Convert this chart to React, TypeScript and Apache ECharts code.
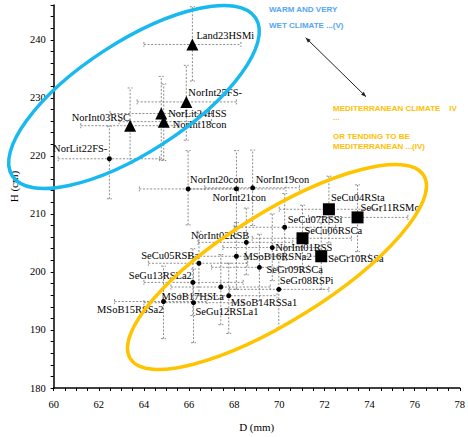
import React, { useEffect, useRef } from "react";
import * as echarts from "echarts";

// ---- data ----
const names = [
  "Land23HSMi", "NorInt25FS-", "NorLit24HSS", "NorInt18con", "NorInt03RSC",
  "NorLit22FS-", "NorInt20con", "NorInt21con", "NorInt19con", "NorInt02RSB",
  "NorInt01RSS", "MSoB16RSNa2", "SeCu05RSBa", "SeGr09RSCa", "SeGu13RSLa2",
  "MSoB17HSLa", "MSoB14RSSa1", "MSoB15RSSa2", "SeGu12RSLa1", "SeGr08RSPi",
  "SeCu07RSSi", "SeCu04RSta", "SeGr11RSMo", "SeCu06RSCa", "SeGr10RSSa",
];
const shapes = [
  "tri", "tri", "tri", "tri", "tri",
  "dot", "dot", "dot", "dot", "dot",
  "dot", "dot", "dot", "dot", "dot",
  "dot", "dot", "dot", "dot", "dot",
  "dot", "sq", "sq", "sq", "sq",
];
const dValues = [
  66.15, 65.88, 64.77, 64.88, 63.39,
  62.47, 65.96, 68.1, 68.82, 68.54,
  69.69, 68.1, 66.44, 69.12, 66.17,
  67.41, 67.76, 64.87, 66.2, 69.98,
  70.24, 72.2, 73.47, 71.03, 71.86,
];
const hValues = [
  239.2, 229.3, 227.3, 225.9, 225.2,
  219.5, 214.3, 214.3, 214.5, 205.1,
  204.2, 202.7, 201.5, 200.8, 198.2,
  197.4, 195.9, 194.9, 194.7, 197.0,
  207.7, 210.8, 209.4, 205.8, 202.7,
];
const dLow = [
  64.0, 63.7, 62.5, 62.9, 61.2,
  60.2, 63.8, 66.0, 66.7, 66.4,
  67.5, 66.0, 64.2, 67.0, 64.0,
  65.2, 65.6, 62.7, 64.0, 67.8,
  68.0, 70.0, 71.3, 68.8, 69.6,
];
const dHigh = [
  68.3, 68.1, 67.0, 67.0, 65.5,
  64.7, 68.2, 70.3, 70.9, 70.6,
  71.8, 70.2, 68.6, 71.3, 68.4,
  69.6, 69.9, 66.8, 68.4, 72.2,
  72.5, 74.5, 75.7, 73.2, 74.0,
];
const hLow = [
  232.9, 222.7, 219.4, 219.2, 218.7,
  212.6, 208.1, 207.8, 208.0, 199.5,
  198.5, 197.0, 196.0, 195.0, 192.5,
  190.9, 189.4, 188.5, 187.8, 190.3,
  202.0, 205.0, 203.5, 200.0, 197.0,
];
const hHigh = [
  245.7, 235.6, 233.7, 232.4, 231.7,
  225.1, 220.9, 220.9, 221.0, 211.0,
  210.0, 208.5, 207.0, 206.5, 204.0,
  203.0, 201.5, 201.0, 200.5, 203.0,
  213.5, 216.5, 215.0, 211.5, 208.5,
];
const xAxisMin = 60;
const xAxisMax = 78;
const yAxisMin = 180;
const yAxisMax = 246;

// ---- label placement (layout) ----
const labelLayout: Record<string, [string, number, number]> = {
  "Land23HSMi": ["left", 4, -9],
  "NorInt25FS-": ["left", 2, -9],
  "NorLit24HSS": ["left", 7, 0],
  "NorInt18con": ["left", 9, 2.5],
  "NorInt03RSC": ["right", 0, -8],
  "NorLit22FS-": ["right", -2, -10],
  "NorInt20con": ["left", 2, -9],
  "NorInt21con": ["left", -24, 9],
  "NorInt19con": ["left", 3, -8],
  "NorInt02RSB": ["right", 3, -7],
  "NorInt01RSS": ["left", 3, -0.5],
  "MSoB16RSNa2": ["left", 7, 0],
  "SeCu05RSBa": ["right", 0, -8],
  "SeGr09RSCa": ["left", 7, 2],
  "SeGu13RSLa2": ["right", -1, -7],
  "MSoB17HSLa": ["right", 3, 9],
  "MSoB14RSSa1": ["left", 2, 7],
  "MSoB15RSSa2": ["right", 0, 8],
  "SeGu12RSLa1": ["left", 2, 9],
  "SeGr08RSPi": ["left", 1, -9],
  "SeCu07RSSi": ["left", 3, -8],
  "SeCu04RSta": ["left", 2, -12],
  "SeGr11RSMo": ["left", 3, -10],
  "SeCu06RSCa": ["left", 2, -8],
  "SeGr10RSSa": ["left", 7, 2],
};

const SERIF = "'Liberation Serif', 'Times New Roman', serif";
const SANS = "'Liberation Sans', Arial, sans-serif";

function arrowHead(tip: number[], from: number[], len: number, half: number) {
  const dx = tip[0] - from[0];
  const dy = tip[1] - from[1];
  const L = Math.hypot(dx, dy);
  const ux = dx / L, uy = dy / L;
  const bx = tip[0] - ux * len, by = tip[1] - uy * len;
  return [tip, [bx - uy * half, by + ux * half], [bx + uy * half, by - ux * half]];
}

export default function App() {
  const ref = useRef<HTMLDivElement>(null);
  useEffect(() => {
    if (!ref.current) return;
    const chart = echarts.init(ref.current, null, { renderer: "svg" });

    const errData = names.map((_, i) => [dValues[i], hValues[i], dLow[i], dHigh[i], hLow[i], hHigh[i]]);
    const pointsOf = (shape: string) =>
      names
        .map((n, i) => ({ n, i }))
        .filter((o) => shapes[o.i] === shape)
        .map(({ n, i }) => {
          const [align, dx, dy] = labelLayout[n];
          return {
            name: n,
            value: [dValues[i], hValues[i]],
            label: {
              show: true,
              position: "inside",
              align,
              verticalAlign: "middle",
              offset: [dx, dy],
              formatter: "{b}",
              color: "#000",
              fontFamily: SERIF,
              fontSize: 10.5,
            },
          };
        });

    const A1 = [305.7, 37.7];
    const A2 = [366, 96.7];

    chart.setOption({
      animation: false,
      backgroundColor: "#fff",
      grid: { left: 50, right: 5, top: 5, bottom: 40.7, containLabel: false },
      xAxis: {
        type: "value",
        min: xAxisMin,
        max: xAxisMax,
        interval: 0.5,
        name: "D (mm)",
        nameLocation: "middle",
        nameGap: 33,
        nameTextStyle: { fontFamily: SERIF, fontSize: 11, color: "#000" },
        axisLine: { show: true, lineStyle: { color: "#000", width: 1.5 } },
        axisTick: { show: true, length: 3, lineStyle: { color: "#000", width: 1 } },
        axisLabel: {
          fontFamily: SERIF,
          fontSize: 10.5,
          color: "#000",
          margin: 11,
          formatter: (v: number) => (v % 2 === 0 ? String(v) : ""),
        },
        splitLine: { show: false },
      },
      yAxis: {
        type: "value",
        min: yAxisMin,
        max: yAxisMax,
        interval: 2,
        name: "H (cm)",
        nameLocation: "middle",
        nameGap: 29,
        nameRotate: 90,
        nameTextStyle: { fontFamily: SERIF, fontSize: 11, color: "#000", padding: [0, 0, 0, 20] },
        axisLine: { show: true, lineStyle: { color: "#000", width: 1.5 } },
        axisTick: { show: true, length: 3, lineStyle: { color: "#000", width: 1 } },
        axisLabel: {
          fontFamily: SERIF,
          fontSize: 10.5,
          color: "#000",
          margin: 8,
          formatter: (v: number) => (v % 10 === 0 ? String(v) : ""),
        },
        splitLine: { show: false },
      },
      series: [
        {
          type: "custom",
          data: errData,
          encode: { x: 0, y: 1 },
          z: 1,
          silent: true,
          renderItem: (_p: any, api: any) => {
            const x = api.value(0), y = api.value(1);
            const pL = api.coord([api.value(2), y]);
            const pR = api.coord([api.value(3), y]);
            const pB = api.coord([x, api.value(4)]);
            const pT = api.coord([x, api.value(5)]);
            const c = 2.5;
            const st = { stroke: "#6e6e6e", lineWidth: 0.8, lineDash: [2, 1.6], fill: null };
            const mk = (x1: number, y1: number, x2: number, y2: number) => ({
              type: "line",
              shape: { x1, y1, x2, y2 },
              style: st,
            });
            return {
              type: "group",
              children: [
                mk(pL[0], pL[1], pR[0], pR[1]),
                mk(pL[0], pL[1] - c, pL[0], pL[1] + c),
                mk(pR[0], pR[1] - c, pR[0], pR[1] + c),
                mk(pB[0], pB[1], pT[0], pT[1]),
                mk(pB[0] - c, pB[1], pB[0] + c, pB[1]),
                mk(pT[0] - c, pT[1], pT[0] + c, pT[1]),
              ],
            };
          },
        },
        {
          type: "scatter",
          symbol: "triangle",
          symbolSize: 12,
          itemStyle: { color: "#000", opacity: 1 },
          z: 3,
          data: pointsOf("tri"),
        },
        {
          type: "scatter",
          symbol: "circle",
          symbolSize: 5,
          itemStyle: { color: "#000", opacity: 1 },
          z: 3,
          data: pointsOf("dot"),
        },
        {
          type: "scatter",
          symbol: "rect",
          symbolSize: 12,
          itemStyle: { color: "#000", opacity: 1 },
          z: 3,
          data: pointsOf("sq"),
        },
      ],
      graphic: [
        {
          type: "ellipse",
          x: 134,
          y: 97,
          rotation: (33 * Math.PI) / 180,
          shape: { cx: 0, cy: 0, rx: 145, ry: 55 },
          style: { fill: "none", stroke: "#17B9EF", lineWidth: 3.5 },
          z: 10,
          silent: true,
        },
        {
          type: "ellipse",
          x: 277,
          y: 267,
          rotation: (32 * Math.PI) / 180,
          shape: { cx: 0, cy: 0, rx: 173, ry: 54 },
          style: { fill: "none", stroke: "#FFC400", lineWidth: 3.5 },
          z: 10,
          silent: true,
        },
        {
          type: "text",
          x: 269,
          y: 9,
          style: { text: "WARM AND VERY", fill: "#55A6F0", font: `bold 8px ${SANS}`, verticalAlign: "middle" },
          z: 10,
        },
        {
          type: "text",
          x: 269,
          y: 25.7,
          style: { text: "WET CLIMATE ...(V)", fill: "#55A6F0", font: `bold 8px ${SANS}`, verticalAlign: "middle" },
          z: 10,
        },
        {
          type: "text",
          x: 333,
          y: 108,
          style: { text: "MEDITERRANEAN CLIMATE    IV", fill: "#FFC000", font: `bold 8px ${SANS}`, verticalAlign: "middle" },
          z: 10,
        },
        {
          type: "text",
          x: 333,
          y: 117,
          style: { text: "...", fill: "#FFC000", font: `bold 8px ${SANS}`, verticalAlign: "middle" },
          z: 10,
        },
        {
          type: "text",
          x: 333,
          y: 136.7,
          style: { text: "OR TENDING TO BE", fill: "#FFC000", font: `bold 8px ${SANS}`, verticalAlign: "middle" },
          z: 10,
        },
        {
          type: "text",
          x: 333,
          y: 146.7,
          style: { text: "MEDITERRANEAN ...(IV)", fill: "#FFC000", font: `bold 8px ${SANS}`, verticalAlign: "middle" },
          z: 10,
        },
        {
          type: "line",
          shape: { x1: A1[0], y1: A1[1], x2: A2[0], y2: A2[1] },
          style: { stroke: "#222", lineWidth: 1 },
          z: 10,
        },
        {
          type: "polygon",
          shape: { points: arrowHead(A1, A2, 5, 2) },
          style: { fill: "#222" },
          z: 10,
        },
        {
          type: "polygon",
          shape: { points: arrowHead(A2, A1, 5, 2) },
          style: { fill: "#222" },
          z: 10,
        },
      ],
    });
    return () => chart.dispose();
  }, []);
  return (
    <div
      ref={ref}
      style={{ position: "fixed", left: 0, top: 0, width: 468, height: 437, background: "#fff" }}
    />
  );
}
